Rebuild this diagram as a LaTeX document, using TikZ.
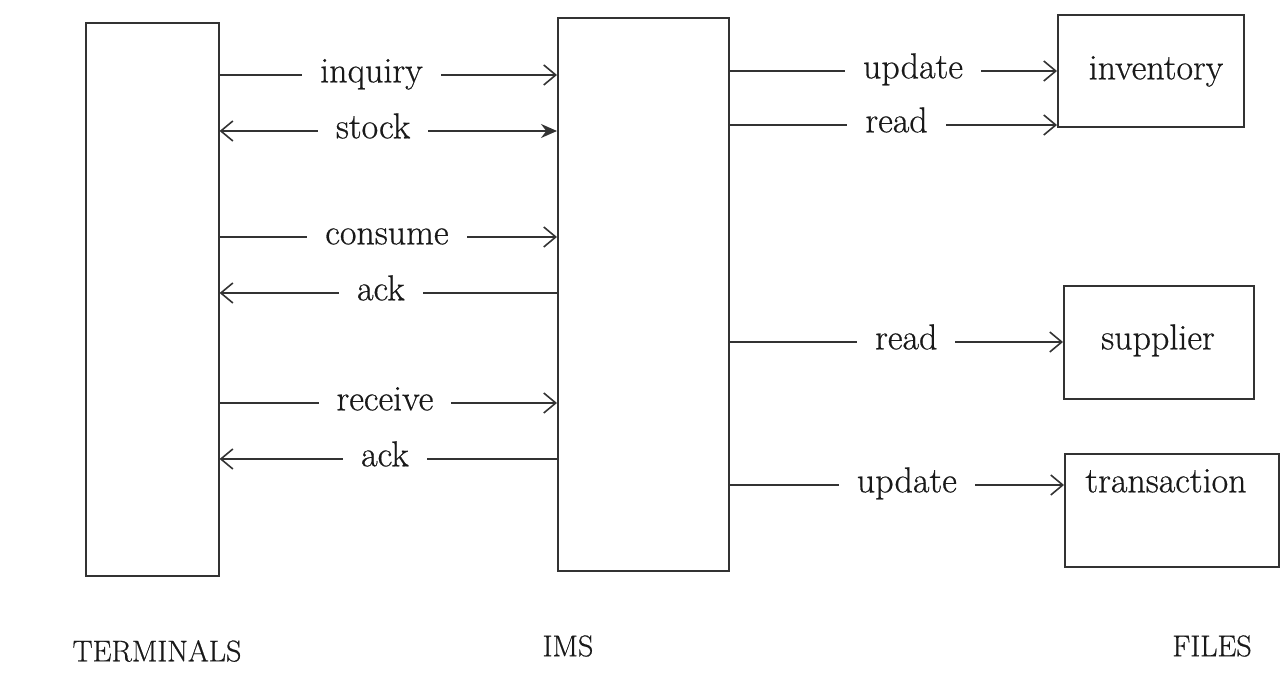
\documentclass[tikz,border=0pt]{standalone}
\usepackage{fontspec}
\usetikzlibrary{arrows.meta}
\newfontfamily\labfont{Latin Modern Roman}[FakeBold=0.6]
\begin{document}
\begin{tikzpicture}[x=0.5pt, y=-0.5pt,
  ink/.style={draw=black!80, line width=0.8pt},
  unit/.style={ink, rectangle, inner sep=0pt, anchor=north west},
  flow/.style={ink, -{Straight Barb[length=6pt, width=10pt, line width=0.8pt]}},
  back/.style={ink, {Straight Barb[length=6pt, width=10pt, line width=0.8pt]}-},
  both/.style={ink, {Straight Barb[length=6pt, width=10pt, line width=0.8pt]}-{Stealth[length=8pt, width=7pt]}},
  lab/.style={fill=white, font=\labfont\fontsize{18}{21}\selectfont, text=black!90,
    inner xsep=9pt, inner ysep=2pt, text height=1ex, text depth=0pt, yshift=-1.5pt},
  caption/.style={font=\labfont\fontsize{15}{18}\selectfont, text=black!90}]

\useasboundingbox (0,0) rectangle (1280,688);

% processes and files
\node[unit, minimum width=66.5pt, minimum height=276.5pt] (terminals) at (85,22) {};
\node[unit, minimum width=85.5pt, minimum height=276.5pt] (ims) at (557,17) {};
\node[unit, minimum width=93pt, minimum height=56pt] (inventory) at (1057,14) {};
\node[unit, minimum width=95pt, minimum height=56.5pt] (supplier) at (1063,285) {};
\node[unit, minimum width=107pt, minimum height=56.5pt] (transaction) at (1064,453) {};

\node[lab, fill=none] at (1156,72) {inventory};
\node[lab, fill=none] at (1158,342) {supplier};
\node[lab, fill=none] at (1166,485) {transaction};

% terminal <-> IMS messages
\draw[flow] (terminals.east |- 0,75) -- node[lab, pos=0.45] {inquiry} (ims.west |- 0,75);
\draw[both] (terminals.east |- 0,131) -- node[lab, pos=0.455] {stock} (ims.west |- 0,131);
\draw[flow] (terminals.east |- 0,237) -- node[lab, pos=0.496] {consume} (ims.west |- 0,237);
\draw[back] (terminals.east |- 0,293) -- node[lab, pos=0.478] {ack} (ims.west |- 0,293);
\draw[flow] (terminals.east |- 0,403) -- node[lab, pos=0.49] {receive} (ims.west |- 0,403);
\draw[back] (terminals.east |- 0,459) -- node[lab, pos=0.49] {ack} (ims.west |- 0,459);

% IMS -> file accesses
\draw[flow] (ims.east |- 0,71) -- node[lab, pos=0.56] {update} (inventory.west |- 0,71);
\draw[flow] (ims.east |- 0,125) -- node[lab, pos=0.51] {read} (inventory.west |- 0,125);
\draw[flow] (ims.east |- 0,342) -- node[lab, pos=0.53] {read} (supplier.west |- 0,342);
\draw[flow] (ims.east |- 0,485) -- node[lab, pos=0.53] {update} (transaction.west |- 0,485);

% column captions
\node[caption] (tcap) at (157,651) {TERMINALS};
\node[caption] (icap) at (568,646) {IMS};
\node[caption] (fcap) at (1212,646) {FILES};
\end{tikzpicture}
\end{document}
